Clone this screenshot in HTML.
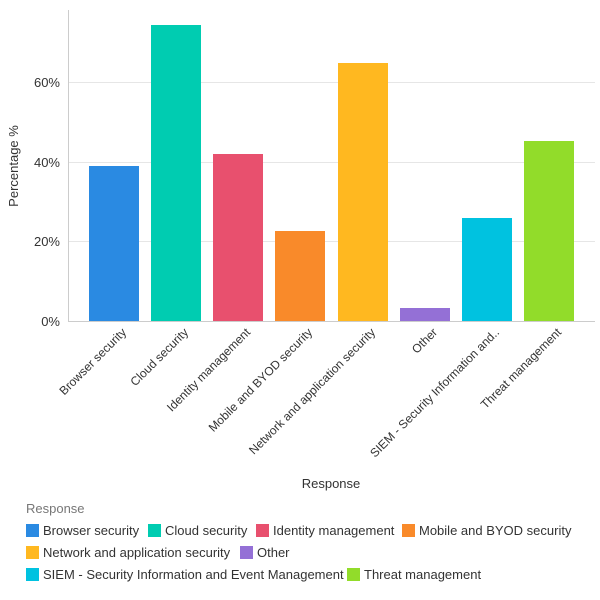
<!DOCTYPE html>
<html><head><style>body{margin:0;background:#fff}svg{display:block;font-family:"Liberation Sans",sans-serif}</style></head><body>
<svg width="600" height="600" xmlns="http://www.w3.org/2000/svg">
<g stroke="#e6e6e6" stroke-width="1">
<line x1="69" y1="82.5" x2="595" y2="82.5"/><line x1="69" y1="162.5" x2="595" y2="162.5"/><line x1="69" y1="241.5" x2="595" y2="241.5"/>
</g>
<line x1="68.5" y1="10" x2="68.5" y2="321" stroke="#ccc"/>
<line x1="68" y1="321.5" x2="595" y2="321.5" stroke="#ccc"/>
<g font-size="13" fill="#333" text-anchor="end">
<text x="60" y="87">60%</text><text x="60" y="167">40%</text><text x="60" y="246">20%</text><text x="60" y="326">0%</text>
</g>
<text transform="translate(18,166) rotate(-90)" text-anchor="middle" font-size="13" fill="#333">Percentage %</text>
<rect x="89" y="166" width="50" height="155" fill="#2a8ae2"/>
<rect x="151" y="25" width="50" height="296" fill="#00ccb1"/>
<rect x="213" y="154" width="50" height="167" fill="#e8506e"/>
<rect x="275" y="231" width="50" height="90" fill="#f98a2a"/>
<rect x="338" y="63" width="50" height="258" fill="#ffb820"/>
<rect x="400" y="308" width="50" height="13" fill="#9470d6"/>
<rect x="462" y="218" width="50" height="103" fill="#00c2e0"/>
<rect x="524" y="141" width="50" height="180" fill="#92dc2a"/>
<g font-size="12" fill="#333" text-anchor="end">
<text transform="translate(127,333) rotate(-45)">Browser security</text>
<text transform="translate(189,333) rotate(-45)">Cloud security</text>
<text transform="translate(251,333) rotate(-45)">Identity management</text>
<text transform="translate(313,333) rotate(-45)">Mobile and BYOD security</text>
<text transform="translate(376,333) rotate(-45)">Network and application security</text>
<text transform="translate(438,333) rotate(-45)">Other</text>
<text transform="translate(500,333) rotate(-45)">SIEM - Security Information and..</text>
<text transform="translate(562,333) rotate(-45)">Threat management</text>
</g>
<text x="331" y="488" text-anchor="middle" font-size="13" fill="#333">Response</text>
<text x="26" y="513" font-size="13" fill="#777">Response</text>
<g font-size="13" fill="#333">
<rect x="26" y="524" width="13" height="13" fill="#2a8ae2"/><text x="43" y="535">Browser security</text>
<rect x="148" y="524" width="13" height="13" fill="#00ccb1"/><text x="165" y="535">Cloud security</text>
<rect x="256" y="524" width="13" height="13" fill="#e8506e"/><text x="273" y="535">Identity management</text>
<rect x="402" y="524" width="13" height="13" fill="#f98a2a"/><text x="419" y="535">Mobile and BYOD security</text>
<rect x="26" y="546" width="13" height="13" fill="#ffb820"/><text x="43" y="557">Network and application security</text>
<rect x="240" y="546" width="13" height="13" fill="#9470d6"/><text x="257" y="557">Other</text>
<rect x="26" y="568" width="13" height="13" fill="#00c2e0"/><text x="43" y="579">SIEM - Security Information and Event Management</text>
<rect x="347" y="568" width="13" height="13" fill="#92dc2a"/><text x="364" y="579">Threat management</text>
</g>
</svg>
</body></html>
